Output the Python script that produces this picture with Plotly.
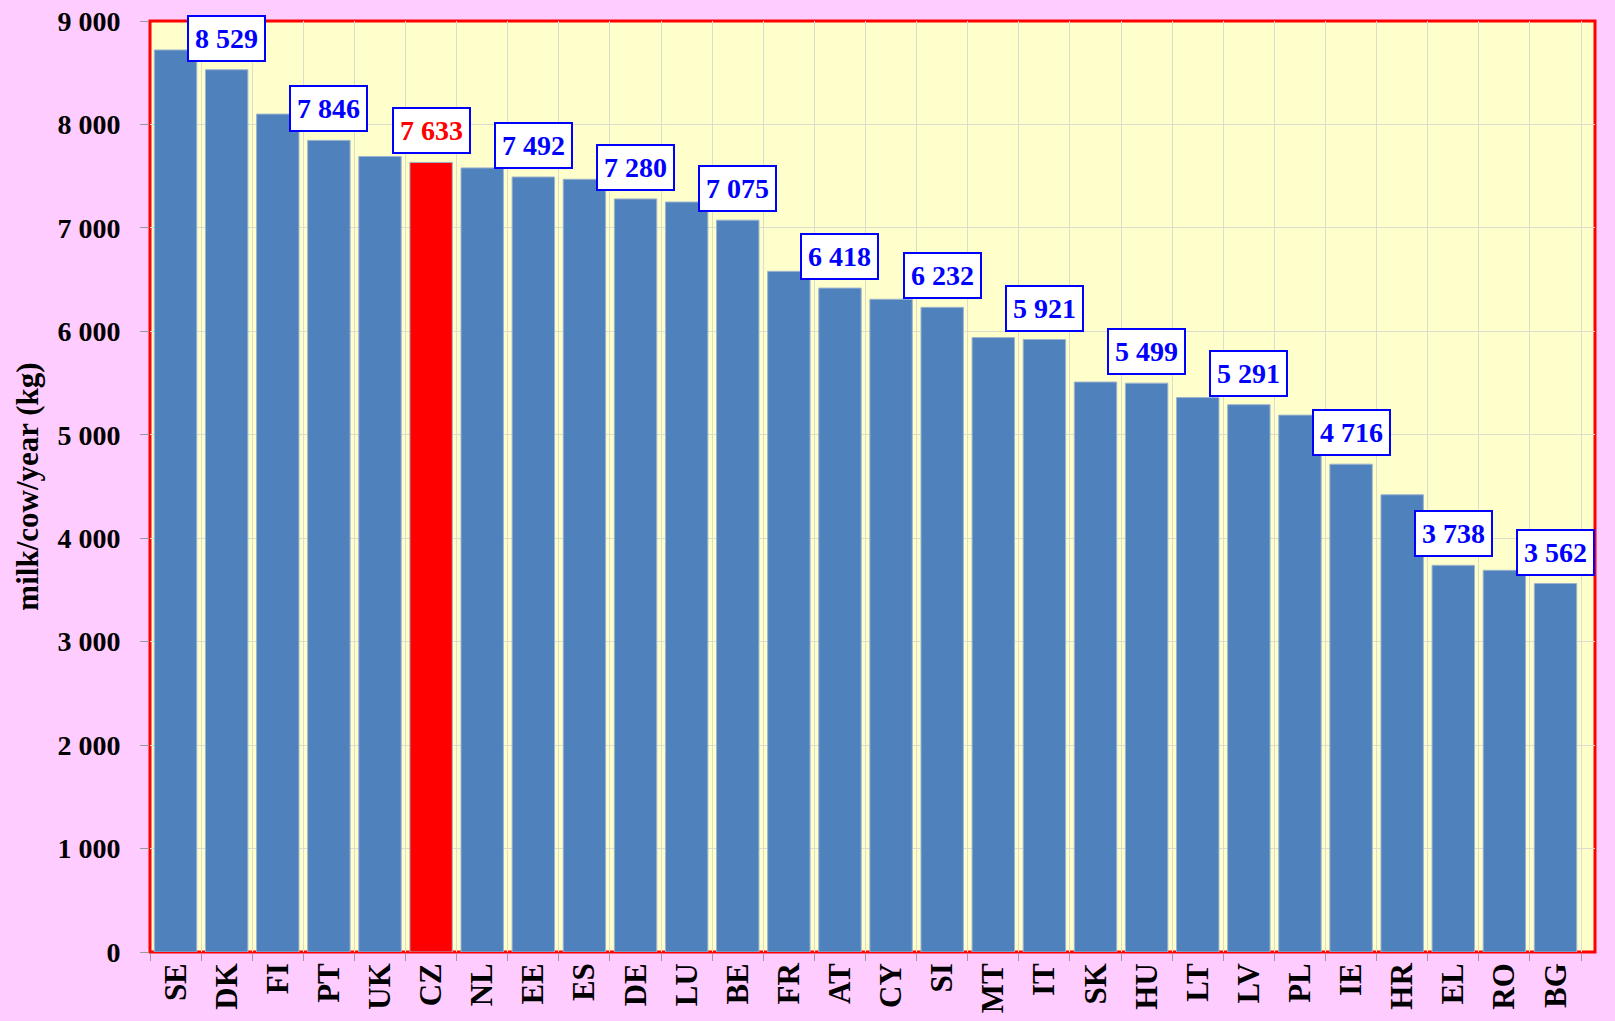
import plotly.graph_objects as go

countries = ["SE", "DK", "FI", "PT", "UK", "CZ", "NL", "EE", "ES", "DE", "LU", "BE", "FR", "AT",
             "CY", "SI", "MT", "IT", "SK", "HU", "LT", "LV", "PL", "IE", "HR", "EL", "RO", "BG"]
milk_kg = [8720, 8529, 8100, 7846, 7690, 7633, 7580, 7492, 7470, 7280, 7250, 7075, 6580, 6418,
           6310, 6232, 5940, 5921, 5510, 5499, 5360, 5291, 5190, 4716, 4420, 3738, 3690, 3562]
labelled = ["DK", "PT", "CZ", "EE", "DE", "BE", "AT", "SI", "IT", "HU", "LV", "IE", "EL", "BG"]
y_ticks = list(range(0, 9001, 1000))

BLUE = "#4F81BD"
PINK = "#FFCCFF"
HIGHLIGHT = "CZ"
SERIF = "Liberation Serif, Times New Roman, serif"

colors = ["#FF0000" if c == HIGHLIGHT else BLUE for c in countries]

fig = go.Figure(go.Bar(
    x=countries, y=milk_kg,
    marker=dict(color=colors, line=dict(color="#9DB4CF", width=1)),
    hoverinfo="x+y",
))

# value boxes on every other bar
for c, v in zip(countries, milk_kg):
    if c not in labelled:
        continue
    fig.add_annotation(
        x=c, y=v, yanchor="bottom", yshift=8, showarrow=False,
        text=f"{v:,}".replace(",", " "),
        font=dict(family=SERIF, size=28, weight="bold",
                  color="#FF0000" if c == HIGHLIGHT else "#0000FF"),
        bgcolor="white", bordercolor="#0000FF", borderwidth=2, borderpad=6,
    )

# red frame round the plot area
fig.add_shape(type="rect", xref="paper", yref="paper", x0=0, x1=1, y0=0, y1=1,
              line=dict(color="#FF0000", width=3), layer="below")

fig.update_layout(
    width=1615, height=1021,
    margin=dict(l=150, r=20, t=21, b=69),
    paper_bgcolor=PINK, plot_bgcolor="#FFFFCC",
    bargap=0.17, showlegend=False,
    separators=". ",
    font=dict(family=SERIF, color="black"),
)
fig.update_xaxes(
    automargin=False,
    tickson="boundaries", ticks="outside", ticklen=8, tickcolor="#999999",
    showgrid=True, gridcolor="#DDDDCC", gridwidth=1,
    tickangle=-90, tickfont=dict(family=SERIF, size=31, weight="bold"),
    ticklabelstandoff=4, ticklabeloverflow="allow",
)
fig.update_yaxes(
    automargin=False,
    range=[0, 9000], tickvals=y_ticks, tickformat=",d",
    ticks="outside", ticklen=9, tickcolor="#999999",
    showgrid=True, gridcolor="#DDDDCC", gridwidth=1, zeroline=False,
    tickfont=dict(family=SERIF, size=28, weight="bold"), ticklabelstandoff=14,
    ticklabeloverflow="allow",
    title=dict(text="milk/cow/year (kg)", font=dict(family=SERIF, size=31, weight="bold"),
               standoff=9),
)

# drop the default 8px page margin so the figure fills the window
fig.write_html("out.html", config={"displayModeBar": False}, post_script=(
    "document.body.style.margin='0';"
    "document.body.style.overflow='hidden';"
    f"document.body.style.background='{PINK}';"
))
